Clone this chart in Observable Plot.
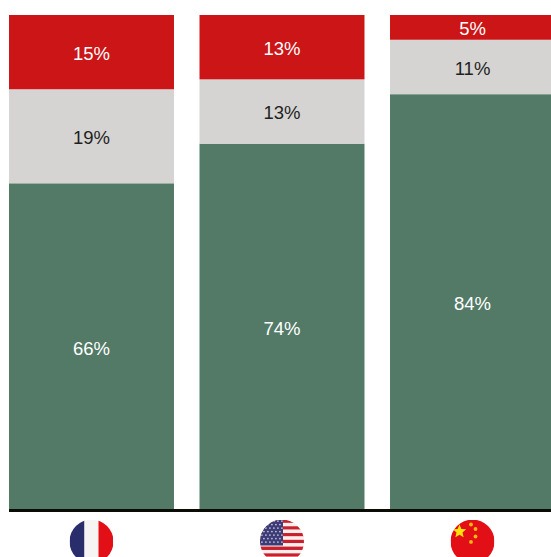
<!DOCTYPE html>
<html>
<head>
<meta charset="utf-8">
<script src="https://cdn.jsdelivr.net/npm/d3@7"></script>
<script src="https://cdn.jsdelivr.net/npm/@observablehq/plot@0.6"></script>
<style>
  html, body { margin: 0; padding: 0; background: #fff; overflow: hidden; }
  svg { display: block; }
</style>
</head>
<body>
<div id="chart"></div>
<script>
const countries = ["France", "USA", "China"];
const responses = ["favourable", "neutral", "unfavourable"];
const favourable = [66, 74, 84];
const neutral = [19, 13, 11];
const unfavourable = [15, 13, 5];
const fills = ["#527a67", "#d5d4d2", "#cb1517"];
const labelInks = ["#ffffff", "#1f1f1f", "#ffffff"];

// One row per stacked segment, lowest segment first
const shares = [favourable, neutral, unfavourable];
const rows = responses.flatMap((response, r) =>
  countries.map((country, c) => ({ country, response, value: shares[r][c], ink: labelInks[r] }))
);

// Round flags, drawn as small inline SVG documents
const svgUrl = (body) =>
  "data:image/svg+xml," + encodeURIComponent(
    `<svg xmlns="http://www.w3.org/2000/svg" viewBox="0 0 44 44" width="176" height="176">${body}</svg>`
  );

const star = (cx, cy, r, fill) => {
  const pts = d3.range(10).map((i) => {
    const a = -Math.PI / 2 + (i * Math.PI) / 5;
    const q = i % 2 ? r * 0.45 : r;
    return `${cx + q * Math.cos(a)},${cy + q * Math.sin(a)}`;
  });
  return `<polygon points="${pts.join(" ")}" fill="${fill}"/>`;
};

const franceFlag =
  `<rect width="15" height="44" fill="#2a2d6c"/>` +
  `<rect x="15" width="14" height="44" fill="#f7f5f3"/>` +
  `<rect x="29" width="15" height="44" fill="#e30f17"/>`;

const usaStripes = d3.range(13).map((i) =>
  `<rect y="${i * 44 / 13}" width="44" height="${44 / 13 + 0.05}" fill="${i % 2 ? "#f8eeea" : "#c9202f"}"/>`
).join("");
const usaStars = d3.range(7).flatMap((row) =>
  d3.range(row % 2 ? 5 : 6).map((col) =>
    `<circle cx="${(row % 2 ? 3.9 : 1.9) + col * 4}" cy="${1.6 + row * 3.5}" r="0.95" fill="#b9b9d6"/>`
  )
).join("");
const usaFlag = usaStripes + `<rect width="23" height="26" fill="#3c3b75"/>` + usaStars;

const chinaFlag =
  `<rect width="44" height="44" fill="#e30f17"/>` +
  star(9, 12, 7, "#fde30a") +
  [[20.5, 5], [25, 9.5], [25, 17], [20.5, 22.4]]
    .map(([x, y]) => `<circle cx="${x}" cy="${y}" r="1.9" fill="#fbb90f"/>`).join("");

const flags = [franceFlag, usaFlag, chinaFlag];
const flagRows = countries.map((country, i) => ({ country, src: svgUrl(flags[i]) }));

const chart = Plot.plot({
  width: 551,
  height: 557,
  marginTop: 15,
  marginRight: 0,
  marginBottom: 47,
  marginLeft: 9,
  style: { background: "#fff", fontFamily: "'Liberation Sans', Arial, sans-serif" },
  x: { type: "band", domain: countries, range: [9, 555], paddingInner: 0.134, paddingOuter: 0, round: false, axis: null },
  y: { domain: [0, 100], range: [510, 15], axis: null },
  color: { domain: responses, range: fills },
  marks: [
    Plot.barY(rows, Plot.stackY({ x: "country", y: "value", fill: "response", order: null })),
    Plot.text(rows, Plot.stackY({
      x: "country",
      y: "value",
      z: "response",
      order: null,
      text: (d) => `${d.value}%`,
      fill: "ink",
      fontSize: 18.5,
      dx: -0.5,
      dy: 1.5
    })),
    Plot.ruleY([0], { stroke: "#0c0c06", strokeWidth: 3 }),
    Plot.image(flagRows, { x: "country", y: () => 0, src: "src", r: 22, dx: -0.5, dy: 31 })
  ]
});

document.getElementById("chart").appendChild(chart);
</script>
</body>
</html>
